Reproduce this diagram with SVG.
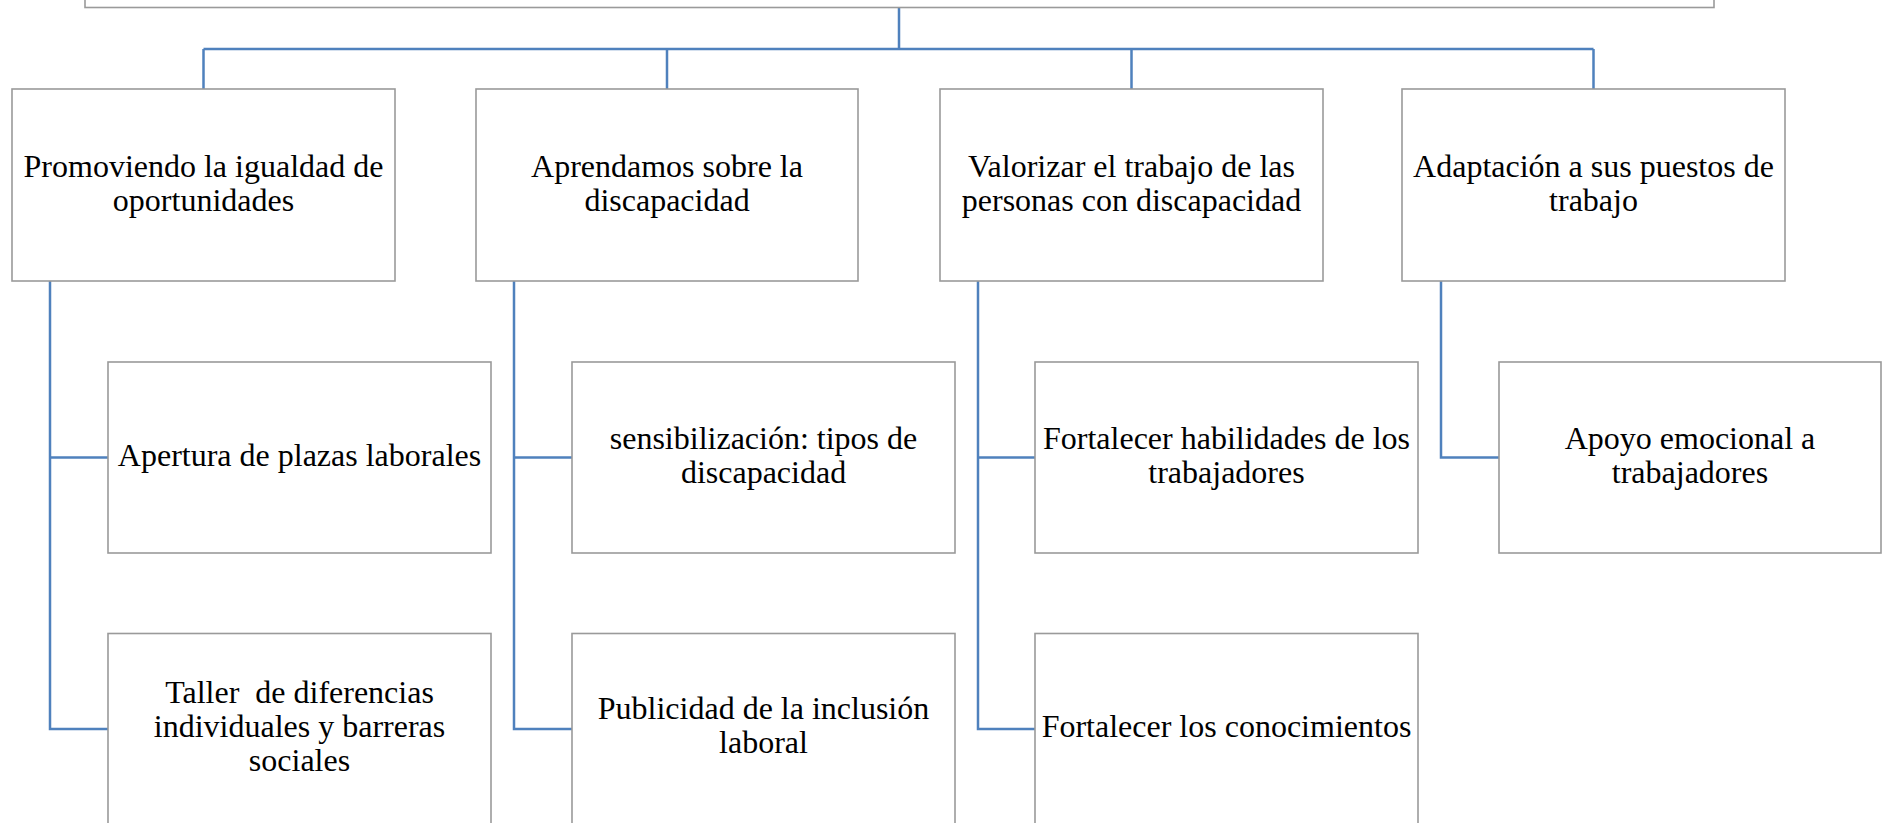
<svg xmlns="http://www.w3.org/2000/svg" width="1882" height="823" viewBox="0 0 1882 823">
<style>
.box{fill:#ffffff;stroke:#9a9a9a;stroke-width:1.6}
.con{fill:none;stroke:#4f81bd;stroke-width:2.5}
text{font-family:"Liberation Serif","Times New Roman",serif;font-size:32px;fill:#000000;text-anchor:middle;white-space:pre}
</style>
<rect x="0" y="0" width="1882" height="823" fill="#ffffff"/>
<g id="connectors">
<path class="con" d="M899,7.5 V49 M203.5,49 H1593.5 M203.5,49 V89 M667,49 V89 M1131.5,49 V89 M1593.5,49 V89"/>
<path class="con" d="M50,281 V729 H108 M50,457.5 H108"/>
<path class="con" d="M514,281 V729 H572 M514,457.5 H572"/>
<path class="con" d="M978,281 V729 H1035 M978,457.5 H1035"/>
<path class="con" d="M1441,281 V457.5 H1499"/>
</g>
<g id="root"><rect class="box" x="85" y="-20" width="1629" height="27.5"/></g>
<g id="n1"><rect class="box" x="12" y="89" width="383" height="192"/>
<text x="203.5" y="177">Promoviendo la igualdad de</text><text x="203.5" y="211">oportunidades</text></g>
<g id="n2"><rect class="box" x="476" y="89" width="382" height="192"/>
<text x="667" y="177">Aprendamos sobre la</text><text x="667" y="211">discapacidad</text></g>
<g id="n3"><rect class="box" x="940" y="89" width="383" height="192"/>
<text x="1131.5" y="177">Valorizar el trabajo de las</text><text x="1131.5" y="211">personas con discapacidad</text></g>
<g id="n4"><rect class="box" x="1402" y="89" width="383" height="192"/>
<text x="1593.5" y="177">Adaptación a sus puestos de</text><text x="1593.5" y="211">trabajo</text></g>
<g id="c11"><rect class="box" x="108" y="362" width="383" height="191"/>
<text x="299.5" y="466">Apertura de plazas laborales</text></g>
<g id="c12"><rect class="box" x="108" y="633.5" width="383" height="200"/>
<text x="299.5" y="703">Taller  de diferencias</text><text x="299.5" y="737">individuales y barreras</text><text x="299.5" y="771">sociales</text></g>
<g id="c21"><rect class="box" x="572" y="362" width="383" height="191"/>
<text x="763.5" y="449">sensibilización: tipos de</text><text x="763.5" y="483">discapacidad</text></g>
<g id="c22"><rect class="box" x="572" y="633.5" width="383" height="200"/>
<text x="763.5" y="719">Publicidad de la inclusión</text><text x="763.5" y="753">laboral</text></g>
<g id="c31"><rect class="box" x="1035" y="362" width="383" height="191"/>
<text x="1226.5" y="449">Fortalecer habilidades de los</text><text x="1226.5" y="483">trabajadores</text></g>
<g id="c32"><rect class="box" x="1035" y="633.5" width="383" height="200"/>
<text x="1226.5" y="737">Fortalecer los conocimientos</text></g>
<g id="c41"><rect class="box" x="1499" y="362" width="382" height="191"/>
<text x="1690" y="449">Apoyo emocional a</text><text x="1690" y="483">trabajadores</text></g>
</svg>
